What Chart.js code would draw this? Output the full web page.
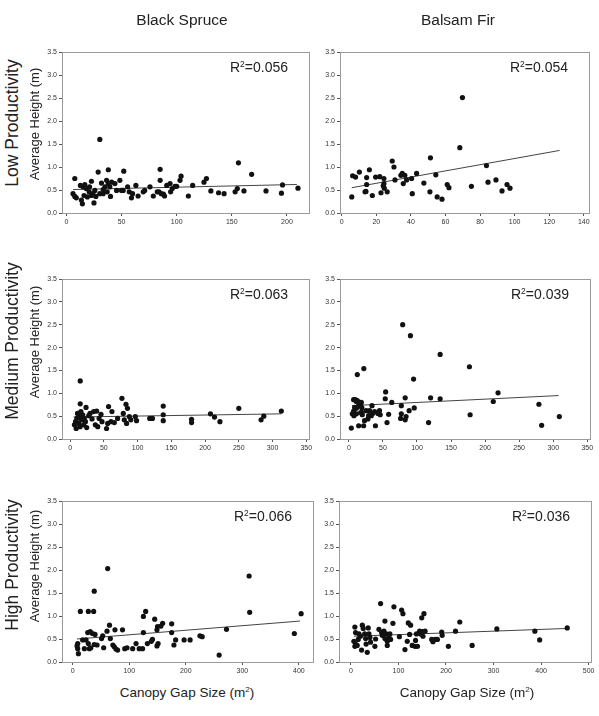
<!DOCTYPE html>
<html>
<head>
<meta charset="utf-8">
<script src="https://cdn.jsdelivr.net/npm/chart.js@4.4.1/dist/chart.umd.min.js"></script>
<style>
  body { margin: 0; background: #fff; font-family: "Liberation Sans", Arial, sans-serif; }
  #wrap { position: relative; width: 599px; height: 716px; overflow: hidden; }
  canvas { position: absolute; }
  .t { position: absolute; white-space: nowrap; color: #222; }
  .rot { transform: translate(-50%, -50%) rotate(-90deg); }
  .ctr { transform: translate(-50%, -50%); }
  sup { font-size: 0.6em; vertical-align: 0.55em; line-height: 0; }
</style>
</head>
<body>
<div id="wrap"></div>
<script>
// column / row names
const species = ['Black Spruce', 'Balsam Fir'];
const rows = ['Low Productivity', 'Medium Productivity', 'High Productivity'];
const yTitle = 'Average Height (m)';
const r2Values = ['0.056', '0.054', '0.063', '0.039', '0.066', '0.036'];

// tick labels
const yTicks = [0, 0.5, 1, 1.5, 2, 2.5, 3, 3.5];
const xTicksBsLow = [0, 50, 100, 150, 200];
const xTicksBfLow = [0, 20, 40, 60, 80, 100, 120, 140];
const xTicksMed = [0, 50, 100, 150, 200, 250, 300, 350];
const xTicksBsHigh = [0, 100, 200, 300, 400];
const xTicksBfHigh = [0, 100, 200, 300, 400, 500];

// Black Spruce, low productivity  [gap size, height]
const bsLow = [[7.6,0.75],[6,0.42],[7.6,0.36],[9,0.33],[13.6,0.28],[14.5,0.2],[12.7,0.6],[15,0.57],[16.7,0.62],[18,0.53],
  [16,0.38],[19,0.35],[20.6,0.46],[21,0.57],[22.7,0.69],[22.7,0.38],[24,0.42],[25,0.22],[25.8,0.49],[26.7,0.36],
  [28.8,0.89],[30.3,1.6],[30.3,0.42],[31.8,0.65],[33.3,0.51],[33.3,0.42],[35,0.57],[36.4,0.71],[37,0.46],[38,0.94],
  [38,0.64],[39.4,0.57],[40,0.36],[41,0.67],[44,0.64],[45.5,0.49],[48.5,0.71],[50,0.49],[51.5,0.49],[52,0.91],
  [55.5,0.57],[57,0.46],[59,0.33],[60,0.42],[63,0.6],[65,0.37],[69.7,0.46],[71,0.49],[75.8,0.57],[78.8,0.37],
  [82.4,0.46],[84,0.46],[85,0.95],[85,0.71],[86,0.42],[88,0.41],[89,0.37],[91,0.6],[94,0.64],[94.5,0.46],
  [96,0.53],[98.5,0.58],[100,0.58],[103,0.71],[104,0.8],[110.6,0.37],[114.5,0.6],[124.8,0.67],[127,0.75],[131,0.48],
  [138,0.44],[143,0.42],[153,0.46],[155,0.53],[156,1.09],[161,0.48],[168,0.84],[181,0.48],[195,0.43],[196,0.61],[210,0.54]];
const bsLowFit = [[6,0.51],[209,0.62]];

// Balsam Fir, low productivity
const bfLow = [[5.8,0.35],[6.3,0.81],[8,0.78],[10.2,0.89],[13.5,0.46],[14,0.47],[14.4,0.62],[14.4,0.77],[16,0.94],[17.7,0.38],
  [19.6,0.78],[22,0.79],[22.7,0.44],[24,0.59],[24.4,0.64],[24.4,0.75],[24.6,0.54],[26.3,0.46],[29.2,1.13],[30.2,1.0],
  [30.8,0.72],[34.2,0.82],[35,0.86],[35.6,0.64],[36.5,0.82],[37.5,0.72],[40.4,0.75],[40.8,0.42],[43.3,0.86],[47.5,0.65],
  [51,0.46],[51.3,1.2],[54.4,0.83],[55.2,0.35],[58,0.3],[61,0.62],[62,0.55],[68.3,1.42],[69.8,2.51],[75,0.58],
  [83.7,1.03],[84.6,0.67],[89.2,0.72],[92.7,0.48],[95.6,0.62],[97.3,0.54]];
const bfLowFit = [[5.8,0.55],[126,1.36]];

// Black Spruce, medium productivity
const bsMed = [[15,1.27],[15,0.77],[23.6,0.69],[6.4,0.31],[8,0.38],[9,0.23],[10,0.45],[11,0.56],[12.8,0.34],[13.8,0.49],
  [14.8,0.27],[16,0.6],[17,0.42],[18.7,0.53],[20,0.31],[21,0.45],[22.7,0.38],[24.6,0.25],[27.6,0.51],[29.5,0.56],
  [32.5,0.44],[35,0.6],[37.4,0.31],[39.4,0.61],[41,0.27],[43,0.45],[45.8,0.54],[47.3,0.38],[54,0.23],[55.7,0.34],
  [57,0.71],[62,0.6],[60.6,0.38],[65.5,0.36],[70.4,0.45],[76.8,0.89],[78.8,0.56],[80.3,0.42],[82.8,0.76],[85,0.67],
  [83.7,0.34],[87.7,0.49],[90,0.42],[96.6,0.49],[98.5,0.4],[118,0.45],[122,0.45],[138,0.72],[138,0.53],[138,0.4],
  [180,0.43],[180,0.36],[208,0.55],[214,0.48],[222,0.38],[250,0.67],[283,0.42],[287,0.5],[313,0.61]];
const bsMedFit = [[5,0.48],[313,0.55]];

// Balsam Fir, medium productivity
const bfMed = [[3.6,0.24],[12.4,1.41],[22,1.54],[79,2.5],[90.4,2.26],[134,1.85],[177,1.58],[95,1.31],[54,1.03],[53.4,0.88],
  [63,0.8],[82.7,0.9],[77,0.73],[77,0.55],[76,0.45],[82.7,0.42],[84,0.49],[88.5,0.62],[96,0.68],[58.4,0.54],
  [56,0.36],[34,0.73],[30.4,0.62],[33,0.51],[35,0.56],[39,0.29],[37.8,0.6],[42.6,0.56],[45,0.62],[46,0.53],
  [28,0.44],[29,0.51],[23,0.4],[21.7,0.29],[14.4,0.29],[19.7,0.53],[25.6,0.62],[7,0.86],[9.5,0.86],[11,0.82],
  [12.4,0.84],[14.4,0.79],[16,0.8],[17.3,0.75],[18.3,0.8],[8.5,0.69],[11,0.67],[13.4,0.71],[19.2,0.68],[7,0.61],
  [5,0.55],[7.5,0.51],[11,0.55],[17.3,0.58],[19.2,0.58],[120,0.9],[117,0.36],[134,0.88],[178,0.53],[212,0.82],
  [219,1.01],[279,0.76],[283,0.3],[309,0.49]];
const bfMedFit = [[4.6,0.73],[308,0.95]];

// Black Spruce, high productivity
const bsHigh = [[10,0.18],[13.5,1.1],[27.6,1.1],[37,1.1],[38,1.54],[61.8,2.03],[312,1.87],[313,1.08],[404,1.05],[392,0.62],
  [259,0.15],[272,0.71],[229,0.55],[225,0.57],[207.6,0.48],[197,0.48],[182,0.48],[179,0.37],[175,0.83],[175,0.64],
  [159,0.84],[156,0.78],[150,0.77],[149,0.7],[145,0.93],[151,0.4],[149,0.35],[139,0.45],[141,0.49],[132,0.4],
  [129,1.1],[125,0.99],[125,0.64],[123.5,0.29],[117.6,0.29],[112,0.4],[106,0.29],[96,0.31],[92,0.29],[88,0.7],
  [76.5,0.28],[79.4,0.26],[74.7,0.7],[73.5,0.33],[71,0.37],[66.5,0.51],[65,0.8],[60.6,0.67],[54.7,0.31],[51,0.51],
  [53,0.57],[43,0.37],[39.4,0.6],[35,0.62],[31,0.66],[26.5,0.64],[32,0.31],[38,0.38],[27.6,0.4],[23.5,0.48],
  [20.6,0.29],[29.4,0.29],[8.8,0.29],[8.8,0.4],[7.6,0.35],[17.6,0.48]];
const bsHighFit = [[7.6,0.5],[402,0.89]];

// Balsam Fir, high productivity
const bfHigh = [[8.4,0.76],[9.8,0.64],[6.3,0.45],[9.8,0.39],[8.4,0.34],[13.3,0.36],[15.4,0.49],[17,0.61],[20,0.56],[22.5,0.26],
  [24,0.8],[26,0.73],[29,0.61],[31,0.51],[32,0.39],[34.4,0.21],[36.5,0.74],[38,0.61],[40,0.53],[41.4,0.43],
  [50.5,0.34],[52,0.5],[59,0.71],[62.5,1.27],[64.6,0.64],[66,0.58],[69.5,0.67],[71.6,0.89],[71.6,0.51],[74.4,0.61],
  [76.5,0.45],[80,0.53],[82,0.61],[83.5,0.49],[76.5,0.36],[88.4,0.84],[90.5,1.2],[102,0.55],[106.7,1.13],[109.5,1.05],
  [113.7,0.27],[118.6,0.45],[120.7,0.85],[125.6,0.8],[123.5,0.6],[129,0.36],[134.7,0.34],[136,0.47],[140,0.34],[138,0.61],
  [144.6,0.67],[146.7,0.61],[149,0.96],[150,0.66],[151.6,0.56],[153.7,1.05],[156,0.67],[170,0.49],[172.6,0.44],[177,0.49],
  [182,0.49],[191,0.65],[192,0.58],[205,0.34],[220,0.67],[229,0.87],[255,0.36],[307,0.72],[387,0.67],[397,0.48],[455,0.74]];
const bfHighFit = [[6.3,0.56],[457,0.73]];

const panels = [
  { pts: bsLow,  fit: bsLowFit,  ticks: xTicksBsLow,  xmin: -4,  xmax: 220, box: [62, 52, 309, 213] },
  { pts: bfLow,  fit: bfLowFit,  ticks: xTicksBfLow,  xmin: -1,  xmax: 143, box: [340, 52, 589, 213] },
  { pts: bsMed,  fit: bsMedFit,  ticks: xTicksMed,    xmin: -12, xmax: 354, box: [62, 279, 309, 439] },
  { pts: bfMed,  fit: bfMedFit,  ticks: xTicksMed,    xmin: -13, xmax: 354, box: [340, 279, 590, 439] },
  { pts: bsHigh, fit: bsHighFit, ticks: xTicksBsHigh, xmin: -19, xmax: 425, box: [62, 501, 313, 662] },
  { pts: bfHigh, fit: bfHighFit, ticks: xTicksBfHigh, xmin: -25, xmax: 505, box: [339, 501, 591, 662] }
];

const wrap = document.getElementById('wrap');

// light frame around each plot area
const frame = {
  id: 'frame',
  beforeDatasetsDraw(chart) {
    const a = chart.chartArea, c = chart.ctx;
    c.save();
    c.strokeStyle = '#9a9a9a';
    c.lineWidth = 1;
    c.strokeRect(a.left + 0.5, a.top + 0.5, a.right - a.left, a.bottom - a.top);
    c.restore();
  }
};

function addText(html, x, y, size, cls) {
  const d = document.createElement('div');
  d.className = 't ' + cls;
  d.style.left = x + 'px';
  d.style.top = y + 'px';
  d.style.fontSize = size + 'px';
  d.innerHTML = html;
  wrap.appendChild(d);
  return d;
}

const padL = 24, padT = 8, padR = 8, padB = 20;
const tickFont = { family: '"Liberation Sans", Arial, sans-serif', size: 7 };

panels.forEach((p, i) => {
  const [l, t, r, b] = p.box;
  const cv = document.createElement('canvas');
  cv.width = (r - l) + padL + padR;
  cv.height = (b - t) + padT + padB;
  cv.style.left = (l - padL) + 'px';
  cv.style.top = (t - padT) + 'px';
  wrap.appendChild(cv);

  new Chart(cv, {
    type: 'scatter',
    data: {
      datasets: [
        {
          data: p.pts.map(([x, y]) => ({ x, y })),
          backgroundColor: '#111',
          borderColor: '#111',
          pointRadius: 2.6,
          pointBorderWidth: 0
        },
        {
          data: p.fit.map(([x, y]) => ({ x, y })),
          showLine: true,
          borderColor: '#444',
          borderWidth: 1,
          pointRadius: 0
        }
      ]
    },
    options: {
      responsive: false,
      animation: false,
      devicePixelRatio: 1,
      layout: { padding: { left: 0, top: padT, right: padR, bottom: 0 } },
      plugins: { legend: { display: false }, tooltip: { enabled: false } },
      scales: {
        x: {
          type: 'linear',
          min: p.xmin,
          max: p.xmax,
          afterBuildTicks: s => { s.ticks = p.ticks.map(v => ({ value: v })); },
          afterFit: s => { s.height = padB; },
          grid: { drawOnChartArea: false, tickLength: 3, color: '#555' },
          border: { color: '#555', width: 1 },
          ticks: { font: tickFont, color: '#333', padding: 2, maxRotation: 0, autoSkip: false }
        },
        y: {
          min: 0,
          max: 3.5,
          afterBuildTicks: s => { s.ticks = yTicks.map(v => ({ value: v })); },
          afterFit: s => { s.width = padL; },
          grid: { drawOnChartArea: false, tickLength: 3, color: '#555' },
          border: { color: '#555', width: 1 },
          ticks: { font: tickFont, color: '#333', padding: 2, callback: v => v.toFixed(1) }
        }
      }
    },
    plugins: [frame]
  });

  // R² label
  const rl = addText('R<sup>2</sup>=' + r2Values[i], 0, t + 7, 14, '');
  rl.style.left = 'auto';
  rl.style.right = (599 - (r - 21)) + 'px';
});

// column titles
addText(species[0], 182, 20, 15.5, 'ctr');
addText(species[1], 458, 20, 15.5, 'ctr');

// row labels
const rowCenters = [123, 341, 565];
rows.forEach((name, i) => {
  addText(name, 12, rowCenters[i], 17.5, 'rot');
  addText(yTitle, 34, rowCenters[i] + 1, 13, 'rot');
});

// x-axis titles
addText('Canopy Gap Size (m<sup>2</sup>)', 187, 692, 13.5, 'ctr');
addText('Canopy Gap Size (m<sup>2</sup>)', 467, 692, 13.5, 'ctr');
</script>
</body>
</html>
